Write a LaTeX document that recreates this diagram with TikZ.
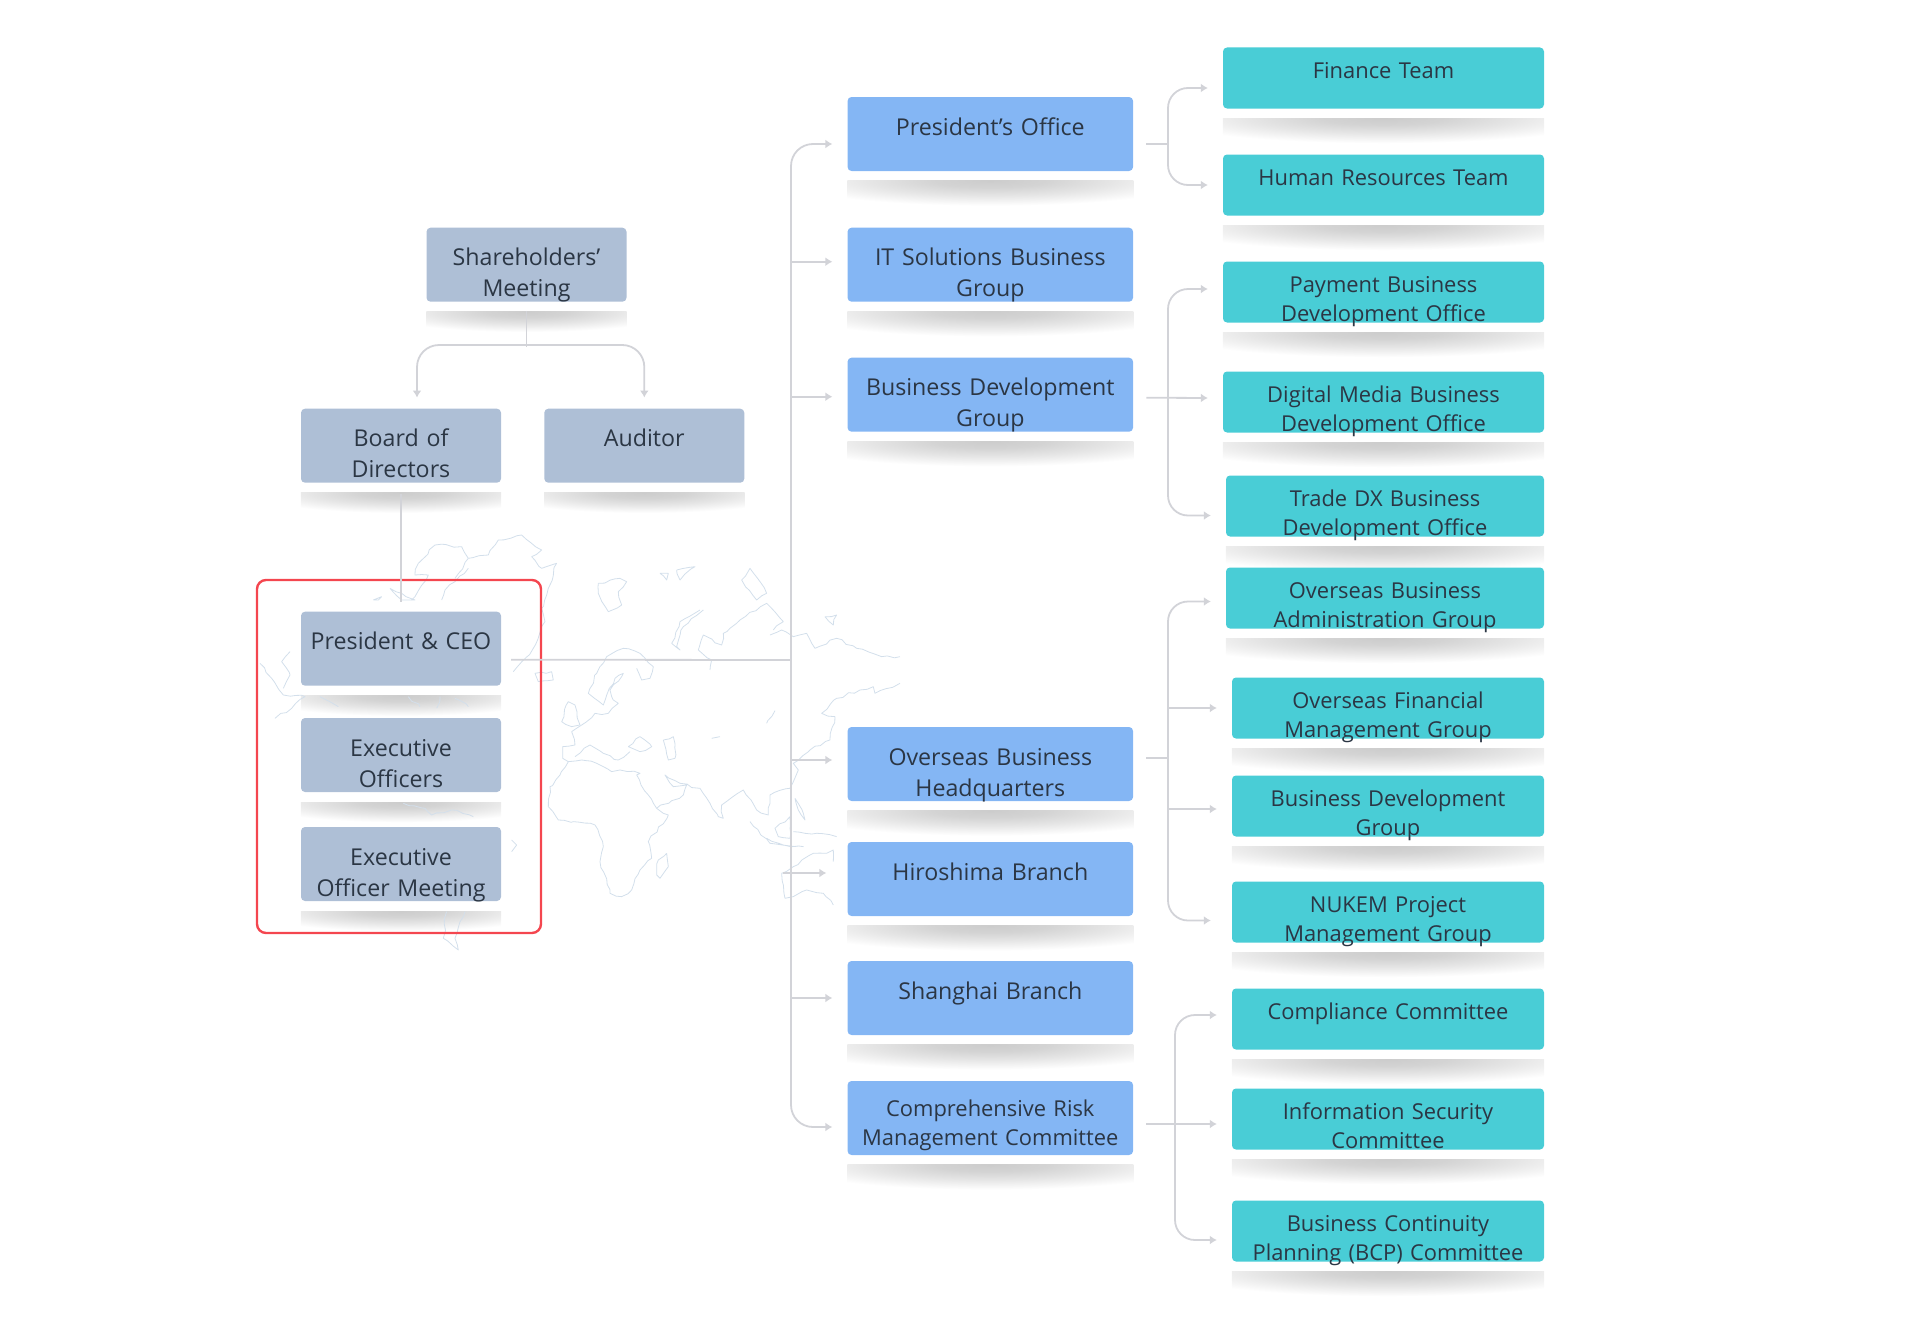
\documentclass[tikz,border=0pt]{standalone}
\usepackage{fontspec}
\setmainfont{Open Sans}
\usetikzlibrary{arrows.meta,backgrounds,decorations.pathmorphing}
\definecolor{slatefill}{HTML}{AEBFD6}
\definecolor{bluefill}{HTML}{84B6F4}
\definecolor{tealfill}{HTML}{49CDD6}
\definecolor{inkcolor}{HTML}{2B3644}
\definecolor{linkcolor}{HTML}{D2D3D8}
\definecolor{mapcolor}{HTML}{D3DFEB}
\definecolor{framecolor}{HTML}{F4464F}
\pgfdeclareradialshading{shadowshade}{\pgfpointorigin}{gray(0bp)=(0.80); gray(7bp)=(0.83); gray(15bp)=(0.90); gray(25bp)=(1); gray(50bp)=(1)}
\tikzset{
orgbox/.style={rectangle,rounded corners=4pt,inner sep=0pt,align=center,text=inkcolor},
slatebox/.style={orgbox,fill=slatefill,text width=200pt,text height=38pt,text depth=36pt,font=\fontsize{23.2}{31}\selectfont},
bluebox/.style={orgbox,fill=bluefill,text width=285.5pt,text height=38pt,text depth=36pt,font=\fontsize{23.2}{31}\selectfont},
tealbox/.style={orgbox,fill=tealfill,text height=30.5pt,text depth=30.5pt,font=\fontsize{21.9}{29}\selectfont},
ceoframe/.style={rectangle,draw=framecolor,line width=2.4pt,rounded corners=9pt,minimum width=284pt,minimum height=353pt},
plainlink/.style={draw=linkcolor,line width=1.8pt},
arrowlink/.style={plainlink,-{Latex[length=7pt,width=9pt]}},
mapline/.style={draw=mapcolor,line width=0.8pt,line join=round,decorate,decoration={random steps,segment length=6pt,amplitude=1.3pt}},
shadowbar/.style={shade,shading=shadowshade}
}
\begin{document}
\begin{tikzpicture}[x=1pt,y=-1pt]
\useasboundingbox (0,0) rectangle (1920,1330);
\pgfmathsetseed{7}

% world map behind the chart, east half
\begin{scope}[shift={(540,550)},x=0.3333pt,y=-0.3333pt]
\draw[mapline] (85,635) -- (60,675) -- (30,710) -- (25,770) -- (55,810) -- (100,815) -- (165,825) -- (190,890) -- (180,935) -- (210,1030) -- (245,1040) -- (275,1020) -- (300,960) -- (335,925) -- (325,875) -- (385,795) -- (350,775) -- (325,735) -- (290,675) -- (300,670) -- (240,660) -- (215,665) -- (170,640) -- (125,630) -- (85,635);
\draw[mapline] (85,635) -- (68,625) -- (68,590) -- (105,585) -- (95,545) -- (125,525) -- (165,490) -- (205,490) -- (235,460) -- (215,440) -- (210,420) -- (250,370) -- (225,385) -- (190,465) -- (145,430) -- (170,370) -- (200,320) -- (250,295) -- (300,310) -- (340,350) -- (330,385) -- (305,390) -- (290,355);
\draw[mapline] (105,620) -- (150,585) -- (190,610) -- (235,630) -- (270,605);
\draw[mapline] (265,590) -- (300,560) -- (335,590) -- (300,605) -- (265,590);
\draw[mapline] (370,570) -- (400,560) -- (405,625) -- (385,630) -- (370,570);
\draw[mapline] (350,775) -- (430,735) -- (440,705) -- (400,710) -- (375,675) -- (420,700) -- (480,715) -- (510,760) -- (535,800) -- (550,805) -- (545,765) -- (610,720) -- (650,780) -- (685,795) -- (690,735) -- (750,715) -- (775,660) -- (760,640) -- (810,600) -- (870,570) -- (885,500) -- (845,490) -- (890,445) -- (960,420) -- (1000,410) -- (1005,430) -- (1080,400);
\draw[mapline] (690,255) -- (725,240) -- (760,260) -- (800,250) -- (825,295) -- (890,265) -- (950,295) -- (1025,320) -- (1080,320);
\draw[mapline] (700,240) -- (730,215) -- (680,160) -- (600,210) -- (550,250) -- (545,285) -- (490,255) -- (475,300) -- (515,330) -- (510,360);
\draw[mapline] (480,180) -- (420,215) -- (395,280) -- (420,300) -- (410,290) -- (430,230) -- (490,180);
\draw[mapline] (175,100) -- (240,85) -- (260,95) -- (235,125) -- (245,165) -- (205,185) -- (175,130) -- (175,100);
\draw[mapline] (360,70) -- (385,70) -- (380,90) -- (360,70);
\draw[mapline] (410,60) -- (465,50) -- (420,90) -- (410,60);
\draw[mapline] (605,90) -- (630,55) -- (680,130) -- (650,150) -- (605,90);
\draw[mapline] (855,200) -- (890,195) -- (880,225) -- (855,200);
\draw[mapline] (85,455) -- (105,465) -- (120,525) -- (95,530) -- (65,515) -- (85,455);
\draw[mapline] (380,910) -- (385,950) -- (360,985) -- (350,975) -- (355,930) -- (380,910);
\draw[mapline] (630,815) -- (690,880) -- (790,890) -- (730,885) -- (680,865);
\draw[mapline] (705,835) -- (750,800) -- (750,865) -- (715,860) -- (705,835);
\draw[mapline] (765,745) -- (790,790) -- (795,810) -- (775,780) -- (765,745);
\draw[mapline] (760,845) -- (830,850) -- (890,860);
\draw[mapline] (880,1065) -- (850,1030) -- (800,1020) -- (760,1040) -- (735,1045) -- (725,970) -- (760,950) -- (820,910) -- (860,910) -- (880,900) -- (880,935);
\draw[mapline] (705,482) -- (680,520);
\draw[mapline] (515,565) -- (540,560);
\end{scope}

% world map, west half
\begin{scope}[shift={(255,525)},x=0.3333pt,y=-0.3333pt]
\draw[mapline] (490,115) -- (540,60) -- (620,65) -- (640,100) -- (600,160);
\draw[mapline] (640,100) -- (700,90) -- (730,45) -- (800,30) -- (860,75) -- (830,95) -- (860,130) -- (905,115) -- (880,190) -- (860,250) -- (870,290) -- (835,370) -- (775,440);
\draw[mapline] (490,115) -- (480,150) -- (520,150) -- (480,215) -- (470,225);
\draw[mapline] (640,130) -- (600,170) -- (570,195) -- (560,225);
\draw[mapline] (405,190) -- (440,205) -- (480,225) -- (440,225) -- (405,190);
\draw[mapline] (355,225) -- (380,215) -- (370,225) -- (355,225);
\draw[mapline] (15,415) -- (50,460) -- (85,510) -- (150,515) -- (110,550) -- (60,580);
\draw[mapline] (105,380) -- (80,410) -- (105,450) -- (85,490);
\draw[mapline] (445,835) -- (510,850) -- (530,870) -- (590,855) -- (655,875);
\draw[mapline] (195,515) -- (250,545);
\draw[mapline] (460,515) -- (495,545);
\draw[mapline] (555,515) -- (545,550);
\draw[mapline] (600,520) -- (640,545);
\draw[mapline] (575,1160) -- (565,1240) -- (610,1275) -- (600,1240) -- (630,1160);
\draw[mapline] (770,945) -- (785,960) -- (770,980);
\draw[mapline] (840,445) -- (890,440) -- (895,465) -- (850,470) -- (840,445);
\end{scope}

% left column
\node[slatebox] (holders) at (526.5,264.7) {Shareholders’\\Meeting};
\node[slatebox] (board) at (401,445.7) {Board of\\Directors};
\node[slatebox] (auditor) at (644.3,445.7) {Auditor};
\node[slatebox] (ceo) at (401,648.7) {President \& CEO};
\node[slatebox] (officers) at (401,755) {Executive\\Officers};
\node[slatebox] (meeting) at (401,864) {Executive\\Officer Meeting};
\node[ceoframe] (frame) at (399,756.5) {};

% middle column
\node[bluebox] (office) at (990.3,134) {President’s Office};
\node[bluebox] (itgroup) at (990.3,264.7) {IT Solutions Business\\Group};
\node[bluebox] (bizgroup) at (990.3,394.7) {Business Development\\Group};
\node[bluebox] (overseas) at (990.3,764) {Overseas Business\\Headquarters};
\node[bluebox] (hiroshima) at (990.3,879) {Hiroshima Branch};
\node[bluebox] (shanghai) at (990.3,998) {Shanghai Branch};
\node[bluebox,text height=35pt,text depth=39pt,font=\fontsize{21.9}{29}\selectfont] (risk) at (990.3,1118) {Comprehensive Risk\\Management Committee};

% right column
\node[tealbox,text width=321pt] (finance) at (1383.5,78) {Finance Team};
\node[tealbox,text width=321pt] (human) at (1383.5,185) {Human Resources Team};
\node[tealbox,text width=321pt] (payment) at (1383.5,292) {Payment Business\\Development Office};
\node[tealbox,text width=321pt] (digital) at (1383.5,402) {Digital Media Business\\Development Office};
\node[tealbox,text width=318pt] (trade) at (1385,506) {Trade DX Business\\Development Office};
\node[tealbox,text width=318pt] (osadmin) at (1385,598) {Overseas Business\\Administration Group};
\node[tealbox,text width=312pt] (osfinance) at (1388,708) {Overseas Financial\\Management Group};
\node[tealbox,text width=312pt] (osbusiness) at (1388,806) {Business Development\\Group};
\node[tealbox,text width=312pt] (nukem) at (1388,912) {NUKEM Project\\Management Group};
\node[tealbox,text width=312pt] (compliance) at (1388,1019) {Compliance Committee};
\node[tealbox,text width=312pt] (security) at (1388,1119) {Information Security\\Committee};
\node[tealbox,text width=312pt] (planning) at (1388,1231) {Business Continuity\\Planning (BCP) Committee};

% soft shadows under the boxes
\begin{pgfonlayer}{background}
\foreach \n in {holders,board,auditor,ceo,officers,meeting}{
\begin{scope}
\clip ([shift={(0,10)}]\n.south west) rectangle ([shift={(0,30)}]\n.south east);
\path[shadowbar] ([shift={(-50,-10)}]\n.south west) rectangle ([shift={(50,30)}]\n.south east);
\end{scope}
}
\foreach \n in {office,itgroup,bizgroup,overseas,hiroshima,shanghai,risk,finance,human,payment,digital,trade,osadmin,osfinance,osbusiness,nukem,compliance,security,planning}{
\begin{scope}
\clip ([shift={(0,9.5)}]\n.south west) rectangle ([shift={(0,34.5)}]\n.south east);
\path[shadowbar] ([shift={(-60,-15.5)}]\n.south west) rectangle ([shift={(60,34.5)}]\n.south east);
\end{scope}
}
\end{pgfonlayer}

% junctions of the connector lines
\coordinate (holdersjoint) at (526.5,345);
\coordinate (maintrunk) at (791,660);
\coordinate (officejoint) at (1168,144);
\coordinate (bizjoint) at (1168,398);
\coordinate (overseasjoint) at (1168,758);
\coordinate (riskjoint) at (1175,1124);

% arrow ends, a little off each box
\coordinate (tipboard) at ([shift={(16,-11)}]board.north);
\coordinate (tipauditor) at ([shift={(0,-11)}]auditor.north);
\coordinate (tipoffice) at ([shift={(-15,10)}]office.west);
\coordinate (tiprisk) at ([shift={(-15,9)}]risk.west);
\coordinate (tipfinance) at ([shift={(-15,10)}]finance.west);
\coordinate (tiphuman) at ([shift={(-15,0)}]human.west);
\coordinate (tippayment) at ([shift={(-15,-3)}]payment.west);
\coordinate (tipdigital) at ([shift={(-15,-4)}]digital.west);
\coordinate (tiptrade) at ([shift={(-15,9.5)}]trade.west);
\coordinate (tiposadmin) at ([shift={(-15,3.5)}]osadmin.west);
\coordinate (tiposfinance) at ([shift={(-15,0)}]osfinance.west);
\coordinate (tiposbusiness) at ([shift={(-15,3)}]osbusiness.west);
\coordinate (tipnukem) at ([shift={(-21,8.5)}]nukem.west);
\coordinate (tipcompliance) at ([shift={(-15,-4)}]compliance.west);
\coordinate (tipsecurity) at ([shift={(-15,5)}]security.west);
\coordinate (tipplanning) at ([shift={(-15,9)}]planning.west);

\draw[plainlink] ([shift={(0,9)}]holders.south) -- ([shift={(0,1.5)}]holdersjoint);
\draw[arrowlink,rounded corners=22pt] (holdersjoint) -| (tipboard);
\draw[arrowlink,rounded corners=22pt] (holdersjoint) -| (tipauditor);
\draw[plainlink] ([shift={(0,11)}]board.south) -- ([shift={(0,-10)}]ceo.north);
\draw[plainlink] ([shift={(10,11)}]ceo.east) -- (maintrunk);

\draw[arrowlink,rounded corners=22pt] (maintrunk) |- (tipoffice);
\draw[arrowlink,rounded corners=22pt] (maintrunk) |- (tiprisk);
\foreach \n/\dy in {itgroup/-3,bizgroup/2,overseas/-4,shanghai/0}{
\coordinate (tipbranch) at ([shift={(-15,\dy)}]\n.west);
\draw[arrowlink] (maintrunk |- tipbranch) -- (tipbranch);
}
\draw[arrowlink] ([shift={(-64,-6)}]hiroshima.west) -- ([shift={(-21,-6)}]hiroshima.west);

\draw[plainlink] ([shift={(13,10)}]office.east) -- (officejoint);
\draw[arrowlink,rounded corners=20pt] (officejoint) |- (tipfinance);
\draw[arrowlink,rounded corners=20pt] (officejoint) |- (tiphuman);

\draw[arrowlink] ([shift={(13,3)}]bizgroup.east) -- (tipdigital);
\draw[arrowlink,rounded corners=20pt] (bizjoint) |- (tippayment);
\draw[arrowlink,rounded corners=20pt] (bizjoint) |- (tiptrade);

\draw[plainlink] ([shift={(13,-6)}]overseas.east) -- (overseasjoint);
\draw[arrowlink,rounded corners=20pt] (overseasjoint) |- (tiposadmin);
\draw[arrowlink,rounded corners=20pt] (overseasjoint) |- (tipnukem);
\draw[arrowlink] (overseasjoint |- tiposfinance) -- (tiposfinance);
\draw[arrowlink] (overseasjoint |- tiposbusiness) -- (tiposbusiness);

\draw[arrowlink] ([shift={(13,6)}]risk.east) -- (tipsecurity);
\draw[arrowlink,rounded corners=20pt] (riskjoint) |- (tipcompliance);
\draw[arrowlink,rounded corners=20pt] (riskjoint) |- (tipplanning);
\end{tikzpicture}
\end{document}
